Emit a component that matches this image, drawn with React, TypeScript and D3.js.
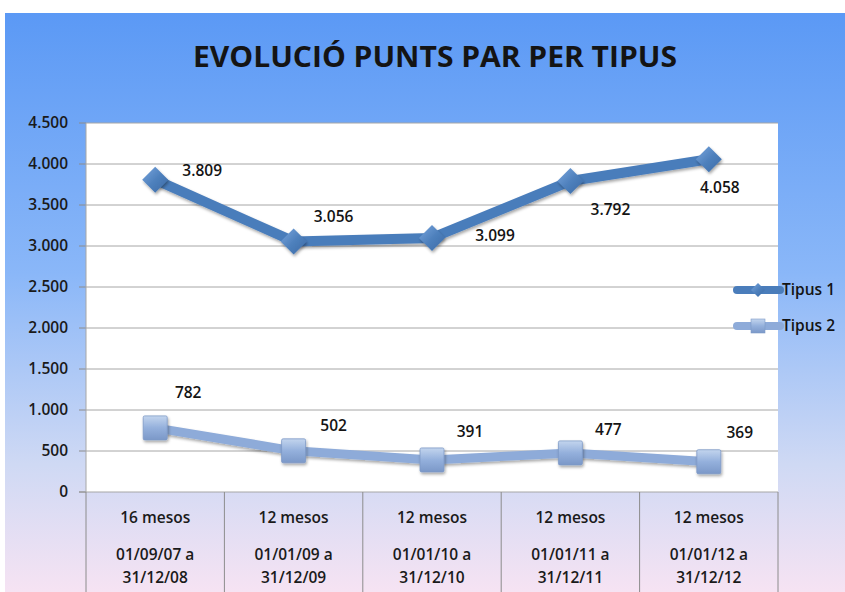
import React from "react";
import * as d3 from "d3";

const categories = ["c1", "c2", "c3", "c4", "c5"];
const periodLabels = ["16 mesos", "12 mesos", "12 mesos", "12 mesos", "12 mesos"];
const dateFrom = ["01/09/07 a", "01/01/09 a", "01/01/10 a", "01/01/11 a", "01/01/12 a"];
const dateTo = ["31/12/08", "31/12/09", "31/12/10", "31/12/11", "31/12/12"];
const tipus1 = [3809, 3056, 3099, 3792, 4058];
const tipus2 = [782, 502, 391, 477, 369];
const yTicks = [0, 500, 1000, 1500, 2000, 2500, 3000, 3500, 4000, 4500];

// manual label placement (dx, dy) like in the original sheet
const offs1 = [[47, -9], [40, -25], [63, -2], [40, 29], [11, 28]];
const offs2 = [[33, -35], [40, -25], [38, -28], [38, -23], [31, -29]];

const W = 845;
const H = 592;
const m = { left: 86, right: 778, top: 123, bottom: 492 };
const font = "'Open Sans', 'DejaVu Sans', sans-serif";
const fs = 15.5;
const fw = 600;

const fmt = (v: number) => d3.format(",")(v).replace(/,/g, ".");

export default function App() {
  const x = d3.scaleBand().domain(categories).range([m.left, m.right]);
  const y = d3.scaleLinear().domain([0, 4500]).range([m.bottom, m.top]);
  const cx = (i: number) => (x(categories[i]) as number) + x.bandwidth() / 2;

  const line = d3
    .line<number>()
    .x((d, i) => cx(i))
    .y((d) => y(d));

  return (
    <div style={{ position: "absolute", left: 0, top: 0 }}>
      <svg width={W} height={H} style={{ display: "block" }}>
        <defs>
          <linearGradient id="bg" x1="0" y1="0" x2="0" y2="1">
            <stop offset="0" stopColor="#5b99f5" />
            <stop offset="0.45" stopColor="#8ab7f8" />
            <stop offset="0.78" stopColor="#cfd9f4" />
            <stop offset="1" stopColor="#f6e3f3" />
          </linearGradient>
          <linearGradient id="dia" x1="0" y1="0" x2="1" y2="1">
            <stop offset="0" stopColor="#7aa6de" />
            <stop offset="0.5" stopColor="#4f81bd" />
            <stop offset="1" stopColor="#3a6aa6" />
          </linearGradient>
          <linearGradient id="sq" x1="0" y1="0" x2="0" y2="1">
            <stop offset="0" stopColor="#c3d5ee" />
            <stop offset="0.5" stopColor="#94b0dc" />
            <stop offset="1" stopColor="#7b98c8" />
          </linearGradient>
          <filter id="sh" x="-30%" y="-30%" width="160%" height="160%">
            <feDropShadow dx="1" dy="2" stdDeviation="1.5" floodColor="#000" floodOpacity="0.35" />
          </filter>
        </defs>

        <rect x={0} y={0} width={W} height={H} fill="#fff" />
        <rect x={5} y={13} width={W - 5} height={H - 13} fill="url(#bg)" />

        <text
          x={435}
          y={67}
          textAnchor="middle"
          fontFamily={font}
          fontWeight={700}
          fontSize={29}
          textLength={484}
          lengthAdjust="spacingAndGlyphs"
          fill="#141414"
        >
          EVOLUCIÓ PUNTS PAR PER TIPUS
        </text>

        {/* plot area */}
        <rect x={m.left} y={m.top} width={m.right - m.left} height={m.bottom - m.top} fill="#fff" />

        {yTicks.map((t) => (
          <g key={t}>
            <line x1={t === 0 ? 79 : m.left} x2={m.right} y1={y(t)} y2={y(t)} stroke="#a6a6a6" strokeWidth={1} />
            <line x1={79} x2={m.left} y1={y(t)} y2={y(t)} stroke="#8c8c8c" strokeWidth={1} />
            <text
              x={68}
              y={y(t)}
              dy="0.35em"
              textAnchor="end"
              fontFamily={font}
              fontSize={fs}
              fontWeight={fw}
              fill="#1a1a1a"
            >
              {fmt(t)}
            </text>
          </g>
        ))}
        <line x1={m.left} x2={m.left} y1={m.top} y2={m.bottom} stroke="#a6a6a6" />

        {/* category table */}
        {categories.map((c, i) => (
          <g key={c} fontFamily={font} fontSize={fs} fontWeight={fw} fill="#1a1a1a" textAnchor="middle">
            <line
              x1={x(c) as number}
              x2={x(c) as number}
              y1={m.bottom}
              y2={H}
              stroke="#8c8c8c"
            />
            <text x={cx(i)} y={518} dy="0.35em">
              {periodLabels[i]}
            </text>
            <text x={cx(i)} y={555} dy="0.35em">
              {dateFrom[i]}
            </text>
            <text x={cx(i)} y={578} dy="0.35em">
              {dateTo[i]}
            </text>
          </g>
        ))}
        <line x1={m.right} x2={m.right} y1={m.bottom} y2={H} stroke="#8c8c8c" />

        {/* series */}
        <path d={line(tipus2) as string} fill="none" stroke="#8eabd9" strokeWidth={9} strokeLinejoin="round" filter="url(#sh)" />
        <path d={line(tipus1) as string} fill="none" stroke="#4a7dbb" strokeWidth={10} strokeLinejoin="round" filter="url(#sh)" />

        {tipus1.map((v, i) => (
          <path
            key={"d" + i}
            d={`M${cx(i)},${y(v) - 13}L${cx(i) + 13},${y(v)}L${cx(i)},${y(v) + 13}L${cx(i) - 13},${y(v)}Z`}
            fill="url(#dia)"
            filter="url(#sh)"
          />
        ))}
        {tipus2.map((v, i) => (
          <rect
            key={"s" + i}
            x={cx(i) - 12}
            y={y(v) - 12}
            width={24}
            height={24}
            rx={1.5}
            fill="url(#sq)"
            stroke="#7d99c7"
            strokeWidth={0.8}
            filter="url(#sh)"
          />
        ))}

        <g fontFamily={font} fontSize={fs} fontWeight={fw} fill="#141414" textAnchor="middle">
          {tipus1.map((v, i) => (
            <text key={"l1" + i} x={cx(i) + offs1[i][0]} y={y(v) + offs1[i][1]} dy="0.35em">
              {fmt(v)}
            </text>
          ))}
          {tipus2.map((v, i) => (
            <text key={"l2" + i} x={cx(i) + offs2[i][0]} y={y(v) + offs2[i][1]} dy="0.35em">
              {fmt(v)}
            </text>
          ))}
        </g>

        {/* legend */}
        <g fontFamily={font} fontSize={fs} fontWeight={fw} fill="#141414">
          <line x1={737} x2={780} y1={290} y2={290} stroke="#4a7dbb" strokeWidth={8} strokeLinecap="round" />
          <path d="M758,283L765,290L758,297L751,290Z" fill="url(#dia)" />
          <text x={782} y={290} dy="0.35em">
            Tipus 1
          </text>
          <line x1={737} x2={780} y1={326} y2={326} stroke="#8eabd9" strokeWidth={8} strokeLinecap="round" />
          <rect x={751} y={319} width={14} height={14} fill="url(#sq)" stroke="#7d99c7" strokeWidth={0.6} />
          <text x={782} y={326} dy="0.35em">
            Tipus 2
          </text>
        </g>
      </svg>
    </div>
  );
}
